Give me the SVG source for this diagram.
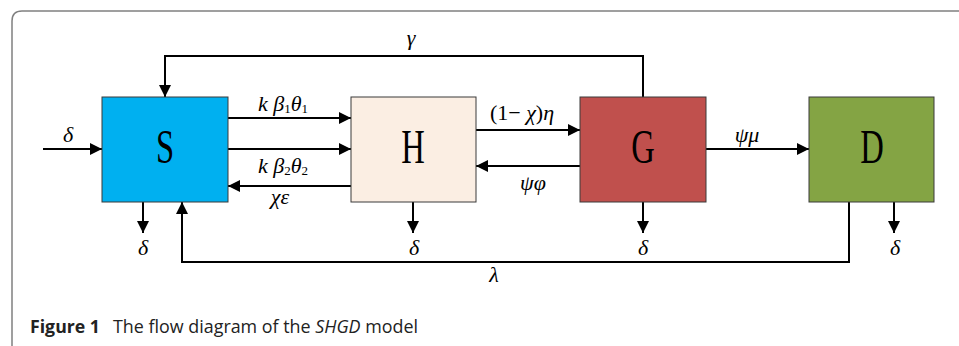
<svg xmlns="http://www.w3.org/2000/svg" width="959" height="346" viewBox="0 0 959 346">
<style>
.box{stroke:#3a3a3a;stroke-width:1}
.lbl{font-family:"Liberation Serif",serif;font-size:48px;fill:#000}
.m{font-family:"Liberation Serif","DejaVu Serif",serif;font-size:22px;font-style:italic;fill:#000}
.n{font-style:normal}
.sub{font-size:13px;font-style:normal}
.conn{fill:none;stroke:#000;stroke-width:2}
.cap{font-family:"Open Sans",sans-serif;font-size:18px;fill:#222}
</style>
<defs>
<marker id="ah" markerUnits="userSpaceOnUse" markerWidth="12" markerHeight="12" refX="12" refY="6" orient="auto">
<path d="M0,0 L12,6 L0,12 z" fill="#000"/>
</marker>
</defs>
<rect width="959" height="346" fill="#fff"/>
<path d="M12,346 V21 Q12,11 22,11 H959" fill="none" stroke="#808080" stroke-width="1.5"/>

<g id="connectors">
<path class="conn" d="M43,149 H102" marker-end="url(#ah)"/>
<path class="conn" d="M228,118 H351" marker-end="url(#ah)"/>
<path class="conn" d="M228,149 H351" marker-end="url(#ah)"/>
<path class="conn" d="M351,186 H228" marker-end="url(#ah)"/>
<path class="conn" d="M476,130 H580" marker-end="url(#ah)"/>
<path class="conn" d="M580,166 H476" marker-end="url(#ah)"/>
<path class="conn" d="M706,149 H809" marker-end="url(#ah)"/>
<path class="conn" d="M643,97 V56 H165 V97" marker-end="url(#ah)"/>
<path class="conn" d="M849,202 V262 H182 V202" marker-end="url(#ah)"/>
<path class="conn" d="M143,202 V233" marker-end="url(#ah)"/>
<path class="conn" d="M413,202 V233" marker-end="url(#ah)"/>
<path class="conn" d="M643,202 V233" marker-end="url(#ah)"/>
<path class="conn" d="M894,202 V233" marker-end="url(#ah)"/>
<text class="m" x="68" y="142" text-anchor="middle">δ</text>
<text class="m" x="411" y="45" text-anchor="middle">γ</text>
<text class="m" x="258" y="111">k β<tspan class="sub" dy="2">1</tspan><tspan dy="-2">θ</tspan><tspan class="sub" dy="2">1</tspan></text>
<text class="m" x="258" y="173">k β<tspan class="sub" dy="2">2</tspan><tspan dy="-2">θ</tspan><tspan class="sub" dy="2">2</tspan></text>
<text class="m" x="280" y="204" text-anchor="middle">χε</text>
<text class="m" x="522" y="120" text-anchor="middle"><tspan class="n">(1−</tspan> χ<tspan class="n">)</tspan>η</text>
<text class="m" x="533" y="190" text-anchor="middle">ψφ</text>
<text class="m" x="747" y="142" text-anchor="middle">ψμ</text>
<text class="m" x="143" y="255" text-anchor="middle">δ</text>
<text class="m" x="414" y="255" text-anchor="middle">δ</text>
<text class="m" x="643" y="255" text-anchor="middle">δ</text>
<text class="m" x="895" y="255" text-anchor="middle">δ</text>
<text class="m" x="494" y="282" text-anchor="middle">λ</text>
</g>

<g id="S">
<rect class="box" x="102" y="97" width="126" height="105" fill="#00B0F0"/>
<text class="lbl" x="165" y="163" text-anchor="middle" transform="translate(165 0) scale(0.68 1) translate(-165 0)">S</text>
</g>
<g id="H">
<rect class="box" x="351" y="97" width="125" height="105" fill="#FBEEE3"/>
<text class="lbl" x="413" y="163" text-anchor="middle" transform="translate(413 0) scale(0.68 1) translate(-413 0)">H</text>
</g>
<g id="G">
<rect class="box" x="580" y="97" width="126" height="105" fill="#C0504D"/>
<text class="lbl" x="643" y="163" text-anchor="middle" transform="translate(643 0) scale(0.68 1) translate(-643 0)">G</text>
</g>
<g id="D">
<rect class="box" x="809" y="97" width="125" height="105" fill="#84A444"/>
<text class="lbl" x="872" y="163" text-anchor="middle" transform="translate(872 0) scale(0.68 1) translate(-872 0)">D</text>
</g>

<text class="cap" x="30" y="333" font-weight="bold" textLength="70" lengthAdjust="spacingAndGlyphs">Figure 1</text>
<text class="cap" x="113" y="333" textLength="305" lengthAdjust="spacingAndGlyphs">The flow diagram of the <tspan font-style="italic">SHGD</tspan> model</text>
</svg>
